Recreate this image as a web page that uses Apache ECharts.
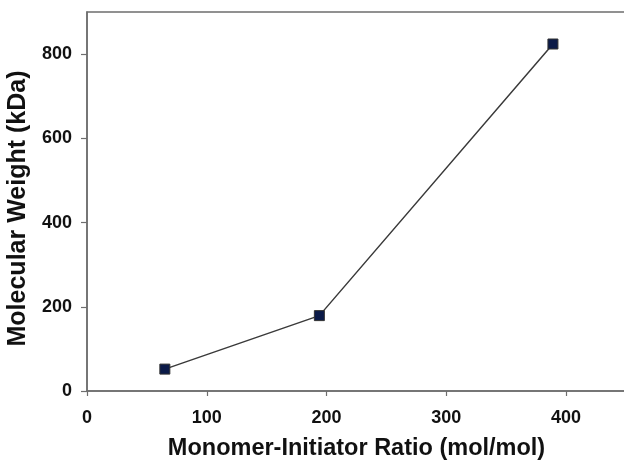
<!DOCTYPE html>
<html><head><meta charset="utf-8">
<script src="https://cdn.jsdelivr.net/npm/echarts@6/dist/echarts.min.js"></script>
<style>html,body{margin:0;padding:0;background:#fff}#c{width:624px;height:460px}</style>
</head><body><div id="c"></div>
<script>
const ratio = [65, 194, 389];
const molWeight = [52, 179, 824];
const xTicks = [0, 100, 200, 300, 400];
const yTicks = [0, 200, 400, 600, 800];

const chart = echarts.init(document.getElementById('c'), null, {renderer: 'canvas'});
const font = '"Liberation Sans", Arial, sans-serif';
chart.setOption({
  animation: false,
  backgroundColor: '#fff',
  grid: {left: 87, top: 12, width: 539, height: 379, outerBoundsMode: 'none', containLabel: false,
    show: true, borderColor: '#6e6e6e', borderWidth: 1.5, backgroundColor: 'transparent'},
  xAxis: {
    type: 'value', min: 0, max: 450, interval: 100,
    name: 'Monomer-Initiator Ratio (mol/mol)', nameLocation: 'middle', nameGap: 46,
    nameTextStyle: {fontFamily: font, fontWeight: 'bold', fontSize: 23.5, color: '#111'},
    axisLine: {show: true, lineStyle: {color: '#6e6e6e', width: 1.5}},
    axisTick: {show: true, length: 5, customValues: xTicks, lineStyle: {color: '#6e6e6e', width: 1.2}},
    splitLine: {show: false},
    axisLabel: {fontFamily: font, fontWeight: 'bold', fontSize: 18, color: '#111', margin: 18,
      customValues: xTicks}
  },
  yAxis: {
    type: 'value', min: 0, max: 900, interval: 200,
    name: 'Molecular Weight (kDa)', nameLocation: 'middle', nameGap: 54,
    nameTextStyle: {fontFamily: font, fontWeight: 'bold', fontSize: 25, color: '#111', padding: [0, 14, 0, 0]},
    axisLine: {show: true, lineStyle: {color: '#6e6e6e', width: 1.5}},
    axisTick: {show: true, length: 6, customValues: yTicks, lineStyle: {color: '#6e6e6e', width: 1.2}},
    splitLine: {show: false},
    axisLabel: {fontFamily: font, fontWeight: 'bold', fontSize: 18, color: '#111', margin: 15,
      customValues: yTicks}
  },
  series: [{
    type: 'line',
    data: ratio.map((x, i) => [x, molWeight[i]]),
    symbol: 'rect', symbolSize: 10,
    lineStyle: {color: '#3a3a3a', width: 1.5},
    itemStyle: {color: '#0b1a48', borderColor: '#333', borderWidth: 1}
  }]
});
</script></body></html>
